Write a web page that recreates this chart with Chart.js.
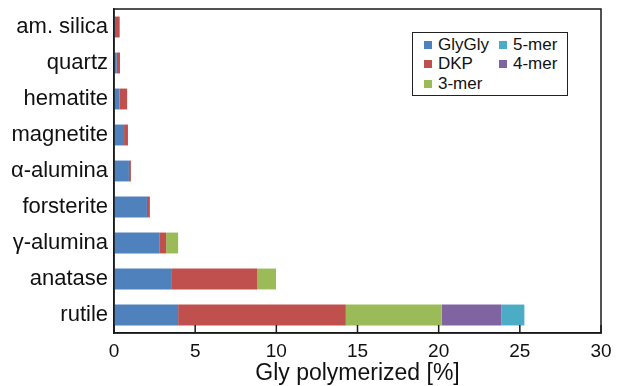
<!DOCTYPE html>
<html>
<head>
<meta charset="utf-8">
<script src="https://cdn.jsdelivr.net/npm/chart.js@4.4.1/dist/chart.umd.min.js"></script>
<style>
  body { margin: 0; background: #fff; }
  #wrap { position: relative; width: 619px; height: 386px; }
  #legend {
    position: absolute; left: 412px; top: 32px; width: 156px; height: 64px;
    border: 1.5px solid #222; background: #fff; box-sizing: border-box;
    font-family: 'Liberation Sans', Arial, sans-serif; font-size: 17px; color: #111;
    display: grid; grid-template-columns: 75px 75px; grid-auto-flow: column;
    grid-template-rows: repeat(3, 19.5px); padding: 2px 0 0 11px;
  }
  #legend span { display: flex; align-items: center; white-space: nowrap; }
  #legend i { display: inline-block; width: 8px; height: 8px; margin-right: 6px; }
</style>
</head>
<body>
<div id="wrap">
  <canvas id="chart" width="619" height="386"></canvas>
  <div id="legend"></div>
</div>
<script>
const categories = ['am. silica', 'quartz', 'hematite', 'magnetite', 'α-alumina', 'forsterite', 'γ-alumina', 'anatase', 'rutile'];

// stacked segments (% of Gly)
const glyGly = [0.05, 0.17, 0.34, 0.62, 0.92, 2.03, 2.82, 3.52, 3.95];
const dkp    = [0.30, 0.20, 0.47, 0.24, 0.12, 0.18, 0.39, 5.29, 10.33];
const mer3   = [0, 0, 0, 0, 0, 0, 0.74, 1.17, 5.90];
const mer4   = [0, 0, 0, 0, 0, 0, 0, 0, 3.69];
const mer5   = [0, 0, 0, 0, 0, 0, 0, 0, 1.41];

const xTicks = [0, 5, 10, 15, 20, 25, 30];

const FONT = "'Liberation Sans', Arial, sans-serif";

const series = [
  { label: 'GlyGly', data: glyGly, color: '#4F81BD' },
  { label: 'DKP', data: dkp, color: '#C0504D' },
  { label: '3-mer', data: mer3, color: '#9BBB59' },
  { label: '4-mer', data: mer4, color: '#8064A2' },
  { label: '5-mer', data: mer5, color: '#4BACC6' }
];

// box around the plot and inward x ticks
const frameTicks = {
  id: 'frameTicks',
  afterDatasetsDraw(chart) {
    const { ctx, chartArea: a, scales: { x } } = chart;
    ctx.save();
    ctx.strokeStyle = '#1a1a1a';
    ctx.lineWidth = 1.5;
    ctx.strokeRect(a.left, a.top, a.right - a.left, a.bottom - a.top);
    x.ticks.forEach((t, i) => {
      const px = x.getPixelForTick(i);
      ctx.beginPath();
      ctx.moveTo(px, a.bottom);
      ctx.lineTo(px, a.bottom - 8);
      ctx.stroke();
    });
    ctx.restore();
  }
};

new Chart(document.getElementById('chart'), {
  type: 'bar',
  data: {
    labels: categories,
    datasets: series.map(s => ({
      label: s.label,
      data: s.data,
      backgroundColor: s.color,
      borderWidth: 0,
      barPercentage: 0.58,
      categoryPercentage: 1
    }))
  },
  options: {
    indexAxis: 'y',
    responsive: false,
    devicePixelRatio: 1,
    animation: false,
    layout: { padding: { top: 9, right: 18, left: 0, bottom: 0 } },
    plugins: {
      legend: { display: false },
      tooltip: { enabled: false }
    },
    scales: {
      x: {
        stacked: true,
        min: 0,
        max: 30,
        afterBuildTicks: scale => { scale.ticks = xTicks.map(v => ({ value: v })); },
        grid: { display: false, drawTicks: false },
        border: { display: true, color: '#1a1a1a', width: 1.5 },
        ticks: { color: '#111', font: { family: FONT, size: 19 }, padding: 7, maxRotation: 0 },
        title: {
          display: true,
          text: 'Gly polymerized [%]',
          color: '#111',
          font: { family: FONT, size: 23 },
          padding: { top: 0, bottom: -1 }
        },
        afterFit: scale => { scale.height = 53; }
      },
      y: {
        stacked: true,
        grid: { display: false, drawTicks: false },
        border: { display: true, color: '#1a1a1a', width: 1.5 },
        ticks: { color: '#111', font: { family: FONT, size: 22 }, padding: 6 },
        afterFit: scale => {
          scale.width = 114;
          scale.paddingTop = 0;
          scale.paddingBottom = 0;
        }
      }
    }
  },
  plugins: [frameTicks]
});

// legend filled column by column, as in the figure
const legend = document.getElementById('legend');
series.forEach(s => {
  const item = document.createElement('span');
  item.innerHTML = '<i style="background:' + s.color + '"></i>' + s.label;
  legend.appendChild(item);
});
// 4-mer and 5-mer are listed top-down as 5-mer, 4-mer
const items = legend.children;
legend.insertBefore(items[4], items[3]);
</script>
</body>
</html>
